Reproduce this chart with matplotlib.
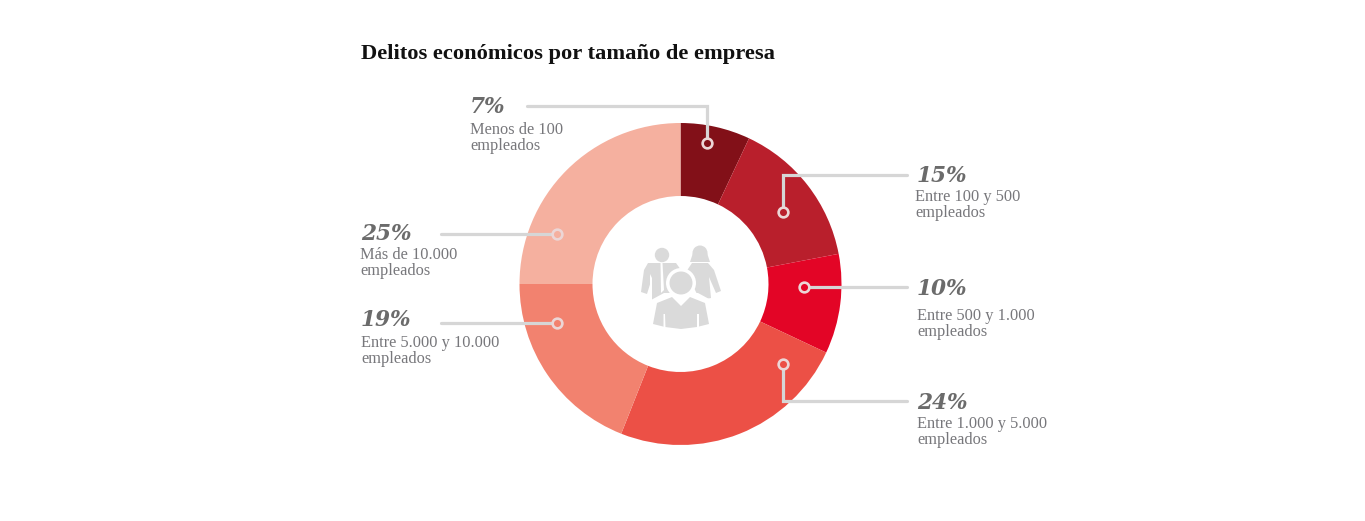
import matplotlib
matplotlib.use("Agg")
import matplotlib.pyplot as plt
from matplotlib.patches import Circle, Polygon, Ellipse

plt.rcParams['font.family'] = ['Liberation Serif', 'DejaVu Serif']

W, H = 1365, 521

values = [7, 15, 10, 24, 19, 25]
pct_labels = ['7%', '15%', '10%', '24%', '19%', '25%']
cat_labels = ['Menos de 100\nempleados', 'Entre 100 y 500\nempleados', 'Entre 500 y 1.000\nempleados',
              'Entre 1.000 y 5.000\nempleados', 'Entre 5.000 y 10.000\nempleados', 'Más de 10.000\nempleados']
colors = ['#821018', '#b91f2c', '#e30526', '#ec5046', '#f2826f', '#f5b09f']
title = 'Delitos económicos por tamaño de empresa'

# text anchors, leader lines (in reference pixels, y down)
pct_pos = [(470, 107), (917, 176), (917, 289), (917, 403), (361, 320), (361, 234)]
cat_pos = [(470, 122), (915, 189), (917, 308), (917, 416), (361, 335), (360, 247)]
leaders = [
    [(527, 106), (707, 106), (707, 143)],
    [(907, 175), (783, 175), (783, 212)],
    [(907, 287), (804, 287)],
    [(907, 401), (783, 401), (783, 364)],
    [(441, 323), (557, 323)],
    [(441, 234), (557, 234)],
]


def fy(y):
    return H - y


def poly(points, z=3, fc='#dadada'):
    ax.add_patch(Polygon([(x, fy(y)) for x, y in points], fc=fc, ec='none', zorder=z))


fig = plt.figure(figsize=(W / 100, H / 100), dpi=100)
ax = fig.add_axes([0, 0, 1, 1])
ax.pie(values, colors=colors, startangle=90, counterclock=False, radius=161, center=(680.5, fy(284)),
       wedgeprops=dict(width=73, linewidth=0))
ax.set_xlim(0, W)
ax.set_ylim(0, H)
ax.set_aspect('equal')
ax.axis('off')

ax.text(361, fy(54), title, fontsize=16.2, fontweight='bold', color='#111111', va='center', ha='left')

line_c = '#d6d6d6'
for i in range(len(values)):
    xs = [p[0] for p in leaders[i]]
    ys = [fy(p[1]) for p in leaders[i]]
    ax.plot(xs, ys, color=line_c, lw=2.3, solid_capstyle='round', solid_joinstyle='miter', zorder=3)
    ax.plot(xs[-1], ys[-1], marker='o', ms=7, mfc=colors[i], mec='#ecd6d6', mew=1.9, zorder=4)
    ax.text(pct_pos[i][0], fy(pct_pos[i][1]), pct_labels[i], fontsize=15.6, fontweight='bold', fontstyle='italic',
            family='DejaVu Serif', color='#6b6b6b', va='center', ha='left')
    ax.text(cat_pos[i][0], fy(cat_pos[i][1]), cat_labels[i], fontsize=11.75, color='#77777b', va='top', ha='left',
            linespacing=1.0)

# people icon in the middle
ax.add_patch(Circle((662, fy(255)), 7.2, fc='#dadada', ec='none', zorder=3))
poly([(648, 263), (676, 263), (681, 270), (672, 300), (652, 300), (652, 278), (647, 294), (641, 292), (644, 270)])
poly([(660.5, 263), (662.5, 263), (664, 290), (661, 293)], z=3.1, fc='white')
poly([(650, 274), (652, 278), (652, 300), (650, 296)], z=3.1, fc='white')

ax.add_patch(Ellipse((700, fy(253)), 15, 15, fc='#dadada', ec='none', zorder=3))
poly([(693, 253), (707, 253), (710, 262), (690, 262)])
poly([(692, 263), (708, 263), (714, 270), (721, 291), (716, 293), (709, 277), (711, 298), (700, 300), (686, 272)])

ax.add_patch(Circle((681, fy(283)), 15, fc='white', ec='none', zorder=3.2))
poly([(651, 300), (664, 293), (698, 293), (711, 300), (712, 328), (650, 328)], z=3.2, fc='white')
ax.add_patch(Circle((681, fy(283)), 11.5, fc='#dadada', ec='none', zorder=3.3))
poly([(657, 303), (672, 297), (681, 306), (690, 297), (705, 303), (709, 324), (697, 327), (681, 329), (665, 327),
      (653, 324)], z=3.3)
poly([(663.5, 314), (665, 314), (665.5, 328), (663.5, 328)], z=3.4, fc='white')
poly([(697, 314), (698.5, 314), (698.5, 328), (696.5, 328)], z=3.4, fc='white')

fig.savefig('out.png', dpi=100, facecolor='white')
